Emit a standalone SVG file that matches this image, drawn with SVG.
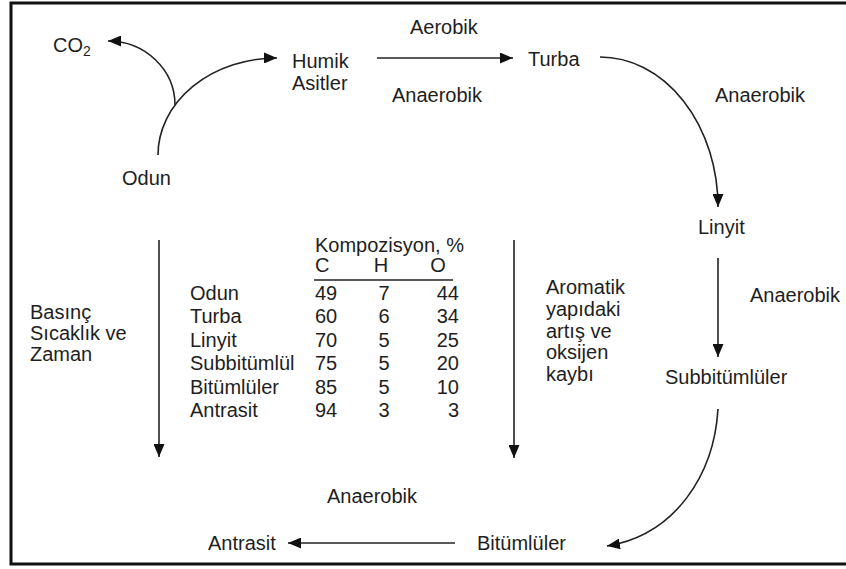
<svg xmlns="http://www.w3.org/2000/svg" width="846" height="569" viewBox="0 0 846 569">
<style>
text{font-family:"Liberation Sans",Arial,sans-serif;font-size:20px;fill:#1e1e1e}
.ln{fill:none;stroke:#222;stroke-width:1.6}
</style>
<defs>
<marker id="ah" viewBox="0 0 13 11" refX="13" refY="5.5" markerWidth="13" markerHeight="11" orient="auto" markerUnits="userSpaceOnUse">
<path d="M0,0 L13,5.5 L0,11 z" fill="#111"/>
</marker>
</defs>
<rect x="0" y="0" width="846" height="569" fill="#fff"/>
<rect x="11" y="3" width="900" height="561" fill="none" stroke="#111" stroke-width="3"/>

<g id="connectors">
<path class="ln" d="M158,155 A119,97 0 0 1 277,58" marker-end="url(#ah)"/>
<path class="ln" d="M175,105 A67,64 0 0 0 108,41" marker-end="url(#ah)"/>
<path class="ln" d="M377,58 L513,58" marker-end="url(#ah)"/>
<path class="ln" d="M600,57 A118,150 0 0 1 718,207" marker-end="url(#ah)"/>
<path class="ln" d="M718,258 L718,357" marker-end="url(#ah)"/>
<path class="ln" d="M718,409 C714,475 675,535 607,546" marker-end="url(#ah)"/>
<path class="ln" d="M455,543 L288,543" marker-end="url(#ah)"/>
<path class="ln" d="M159,240 L159,457" marker-end="url(#ah)"/>
<path class="ln" d="M514,240 L514,458" marker-end="url(#ah)"/>
</g>

<g id="co2"><text x="53" y="52">CO<tspan font-size="14" dy="4">2</tspan></text></g>
<g id="odun"><text x="122" y="185">Odun</text></g>
<g id="humik"><text x="292" y="68">Humik</text><text x="292" y="90">Asitler</text></g>
<g id="turba"><text x="528" y="66">Turba</text></g>
<g id="linyit"><text x="698" y="234">Linyit</text></g>
<g id="subbitumluler"><text x="665" y="384">Subbitümlüler</text></g>
<g id="bitumluler"><text x="477" y="550">Bitümlüler</text></g>
<g id="antrasit"><text x="208" y="550">Antrasit</text></g>

<g id="labels">
<text x="410" y="34">Aerobik</text>
<text x="392" y="102">Anaerobik</text>
<text x="715" y="102">Anaerobik</text>
<text x="750" y="302">Anaerobik</text>
<text x="327" y="503">Anaerobik</text>
<text x="30" y="319">Basınç</text>
<text x="30" y="340">Sıcaklık ve</text>
<text x="30" y="361">Zaman</text>
<text x="546" y="294">Aromatik</text>
<text x="546" y="316">yapıdaki</text>
<text x="546" y="338">artış ve</text>
<text x="546" y="359">oksijen</text>
<text x="546" y="381">kaybı</text>
</g>

<g id="table">
<text x="315" y="252">Kompozisyon, %</text>
<text x="315" y="272">C</text>
<text x="381" y="272" text-anchor="middle">H</text>
<text x="438" y="272" text-anchor="middle">O</text>
<line x1="314" y1="280" x2="453" y2="280" stroke="#222" stroke-width="1.4"/>
<text x="190" y="300">Odun</text><text x="315" y="300">49</text><text x="384" y="300" text-anchor="middle">7</text><text x="459" y="300" text-anchor="end">44</text>
<text x="190" y="323">Turba</text><text x="315" y="323">60</text><text x="384" y="323" text-anchor="middle">6</text><text x="459" y="323" text-anchor="end">34</text>
<text x="190" y="347">Linyit</text><text x="315" y="347">70</text><text x="384" y="347" text-anchor="middle">5</text><text x="459" y="347" text-anchor="end">25</text>
<text x="190" y="370">Subbitümlül</text><text x="315" y="370">75</text><text x="384" y="370" text-anchor="middle">5</text><text x="459" y="370" text-anchor="end">20</text>
<text x="190" y="394">Bitümlüler</text><text x="315" y="394">85</text><text x="384" y="394" text-anchor="middle">5</text><text x="459" y="394" text-anchor="end">10</text>
<text x="190" y="417">Antrasit</text><text x="315" y="417">94</text><text x="384" y="417" text-anchor="middle">3</text><text x="459" y="417" text-anchor="end">3</text>
</g>
</svg>
